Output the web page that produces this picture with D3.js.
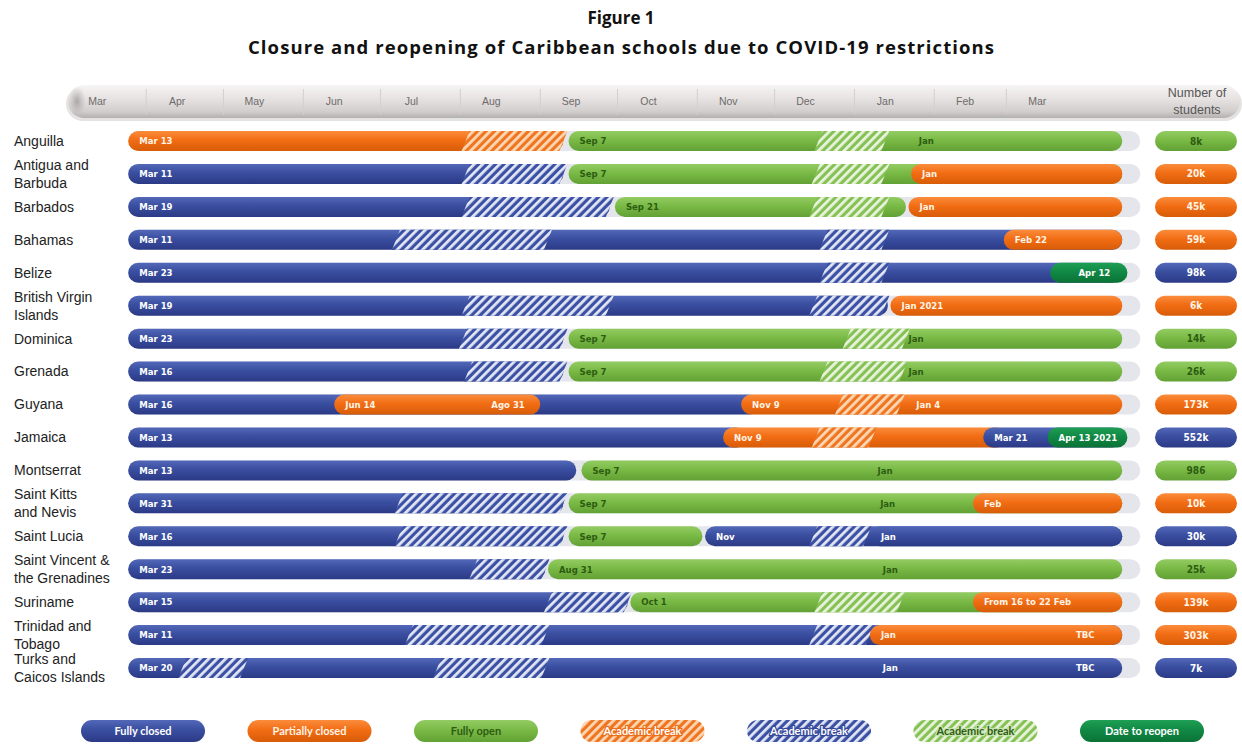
<!DOCTYPE html>
<html><head><meta charset="utf-8">
<script src="https://cdn.jsdelivr.net/npm/d3@7"></script>
<style>body{margin:0;background:#fff}</style>
</head><body>
<svg id="chart" width="1242" height="744"></svg>
<script>
// ---------------- DATA ----------------
const titleLines = ["Figure 1", "Closure and reopening of Caribbean schools due to COVID-19 restrictions"];
const monthStarts = ["2020-03-01","2020-04-01","2020-05-01","2020-06-01","2020-07-01","2020-08-01","2020-09-01",
  "2020-10-01","2020-11-01","2020-12-01","2021-01-01","2021-02-01","2021-03-01"];
const studentsHeader = ["Number of", "students"];
const countries = ["Anguilla","Antigua and\nBarbuda","Barbados","Bahamas","Belize","British Virgin\nIslands",
  "Dominica","Grenada","Guyana","Jamaica","Montserrat","Saint Kitts\nand Nevis","Saint Lucia",
  "Saint Vincent &\nthe Grenadines","Suriname","Trinidad and\nTobago","Turks and\nCaicos Islands"];
const studentLabels = ["8k","20k","45k","59k","98k","6k","14k","26k","173k","552k","986","10k","30k","25k","139k","303k","7k"];
const studentStatus = ["open","partial","partial","partial","closed","partial","open","open","partial","closed",
  "open","partial","closed","open","partial","partial","closed"];
const START = "2020-03-25", END = "2021-04-15", TRACK_END = "2021-04-22";
// [status, from, to, label] drawn in order; "brk-*" = academic break
const rowSegments = [
  [["partial",START,"2020-09-10","Mar 13"],["brk-partial","2020-08-03","2020-09-10"],["open","2020-09-12",END,"Sep 7"],["brk-open","2020-12-18","2021-01-13"]],
  [["closed",START,"2020-09-10","Mar 11"],["brk-closed","2020-08-03","2020-09-10"],["open","2020-09-12",END,"Sep 7"],["brk-open","2020-12-17","2021-01-13"],["partial","2021-01-23",END,"Jan"]],
  [["closed",START,"2020-09-28","Mar 19"],["brk-closed","2020-08-03","2020-09-28"],["open","2020-09-30","2021-01-21","Sep 21"],["brk-open","2020-12-16","2021-01-13"],["partial","2021-01-22",END,"Jan"]],
  [["closed",START,END,"Mar 11"],["brk-closed","2020-07-07","2020-09-04"],["brk-closed","2020-12-20","2021-01-13"],["partial","2021-02-28",END,"Feb 22"]],
  [["closed",START,END,"Mar 23"],["brk-closed","2020-12-20","2021-01-13"],["reopen","2021-03-18","2021-04-17",""]],
  [["closed",START,"2021-01-14","Mar 19"],["brk-closed","2020-08-03","2020-09-28"],["brk-closed","2020-12-16","2021-01-13"],["partial","2021-01-15",END,"Jan 2021"]],
  [["closed",START,"2020-09-10","Mar 23"],["brk-closed","2020-08-02","2020-09-10"],["open","2020-09-12",END,"Sep 7"],["brk-open","2020-12-29","2021-01-21"]],
  [["closed",START,"2020-09-10","Mar 16"],["brk-closed","2020-08-04","2020-09-10"],["open","2020-09-12",END,"Sep 7"],["brk-open","2020-12-20","2021-01-20"]],
  [["closed",START,"2020-11-25","Mar 16"],["partial","2020-06-13","2020-09-01","Jun 14"],["partial","2020-11-18",END,"Nov 9"],["brk-partial","2020-12-26","2021-01-19"]],
  [["closed",START,"2020-11-20","Mar 13"],["partial","2020-11-11","2021-03-01","Nov 9"],["brk-partial","2020-12-17","2021-01-08"],["closed","2021-02-20",END,"Mar 21"],["reopen","2021-03-17","2021-04-17","Apr 13 2021"]],
  [["closed",START,"2020-09-15","Mar 13"],["open","2020-09-17",END,"Sep 7"]],
  [["closed",START,"2020-09-10","Mar 31"],["brk-closed","2020-07-08","2020-09-10"],["open","2020-09-12",END,"Sep 7"],["partial","2021-02-16",END,"Feb"]],
  [["closed",START,"2020-09-10","Mar 16"],["brk-closed","2020-07-08","2020-09-10"],["open","2020-09-12","2020-11-03","Sep 7"],["closed","2020-11-04",END,"Nov"],["brk-closed","2020-12-16","2021-01-06"],["closed","2021-01-07",END,"Jan"]],
  [["closed",START,"2020-09-03","Mar 23"],["brk-closed","2020-08-06","2020-09-03"],["open","2020-09-04",END,"Aug 31"]],
  [["closed",START,"2020-10-05","Mar 15"],["brk-closed","2020-09-04","2020-10-05"],["open","2020-10-06",END,"Oct 1"],["brk-open","2020-12-18","2021-01-19"],["partial","2021-02-16",END,"From 16 to 22 Feb"]],
  [["closed",START,END,"Mar 11"],["brk-closed","2020-07-12","2020-09-03"],["brk-closed","2020-12-16","2021-01-07"],["partial","2021-01-07",END,"Jan"]],
  [["closed",START,END,"Mar 20"],["brk-closed","2020-04-15","2020-05-09"],["brk-closed","2020-07-23","2020-09-03"]]
];
// free text inside bars: [text, position date, background status]
const rowNotes = [
  [["Jan","2021-01-26","open"]],
  [], [], [],
  [["Apr 12","2021-03-29","reopen"]],
  [],
  [["Jan","2021-01-22","open"]],
  [["Jan","2021-01-22","open"]],
  [["Ago 31","2020-08-13","partial"],["Jan 4","2021-01-25","partial"]],
  [],
  [["Jan","2021-01-10","open"]],
  [["Jan","2021-01-11","open"]],
  [],
  [["Jan","2021-01-12","open"]],
  [],
  [["TBC","2021-03-28","partial"]],
  [["Jan","2021-01-12","closed"],["TBC","2021-03-28","closed"]]
];
const legendKinds = ["closed","partial","open","brk-partial","brk-closed","brk-open","reopen"];
const legendLabels = ["Fully closed","Partially closed","Fully open","Academic break","Academic break","Academic break","Date to reopen"];

// ---------------- DRAWING ----------------
const parse = d3.timeParse("%Y-%m-%d");
const svg = d3.select("#chart");
const defs = svg.append("defs");

const palette = {
  closed:  ["#5368b8","#3a4ea0","#2b3a86"],
  partial: ["#fb8c3c","#f26d14","#d85c08"],
  open:    ["#93cc63","#7aba46","#62a134"],
  reopen:  ["#1f9f55","#118945","#0a7236"]
};
Object.entries(palette).forEach(([k,c]) => {
  const g = defs.append("linearGradient").attr("id","g-"+k).attr("x1",0).attr("y1",0).attr("x2",0).attr("y2",1);
  g.append("stop").attr("offset","0%").attr("stop-color",c[0]);
  g.append("stop").attr("offset","45%").attr("stop-color",c[1]);
  g.append("stop").attr("offset","100%").attr("stop-color",c[2]);
});
const hatchCols = {
  "brk-closed":  ["#3c51a3","#e2e7f6"],
  "brk-partial": ["#f07522","#fcd9b4"],
  "brk-open":    ["#86c155","#e9f4de"]
};
Object.entries(hatchCols).forEach(([k,c]) => {
  const p = defs.append("pattern").attr("id","p-"+k).attr("patternUnits","userSpaceOnUse")
    .attr("width",6).attr("height",6).attr("patternTransform","rotate(45)");
  p.append("rect").attr("width",6).attr("height",6).attr("fill",c[0]);
  p.append("rect").attr("width",2.8).attr("height",6).attr("fill",c[1]);
});
const textCol = {closed:"#ffffff", partial:"#fff4e6", open:"#2d5c12", reopen:"#ffffff",
  "brk-closed":"#ffffff","brk-partial":"#ffffff","brk-open":"#2d5c12"};
const haloCol = {"brk-closed":"#34489a","brk-partial":"#ec6d18","brk-open":"#c9e5b0"};
const fillOf = k => k.startsWith("brk-") ? "url(#p-"+k+")" : "url(#g-"+k+")";

// Title
svg.selectAll("text.title").data(titleLines).join("text")
  .attr("x",621).attr("y",(d,i)=>24+i*30).attr("text-anchor","middle")
  .style("font-family","'Open Sans',sans-serif").style("font-weight","bold")
  .style("font-size",(d,i)=> i===0 ? "17px" : "18.5px")
  .attr("fill","#111")
  .each(function(d,i){ if(i===1) d3.select(this).attr("textLength",746).attr("lengthAdjust","spacing"); })
  .text(d=>d);

// Time scale (fitted to the header month labels)
const x = d3.scaleTime().domain([parse("2020-03-16"), parse("2021-03-16")]).range([105,1045]);

// Header bar
const hg = defs.append("linearGradient").attr("id","hdr").attr("x1",0).attr("y1",0).attr("x2",0).attr("y2",1);
[["0%","#f6f4f4"],["40%","#e7e3e2"],["80%","#d2cecd"],["100%","#b3b0b0"]].forEach(s=>hg.append("stop").attr("offset",s[0]).attr("stop-color",s[1]));
const capg = defs.append("radialGradient").attr("id","cap").attr("cx","50%").attr("cy","50%").attr("r","50%");
capg.append("stop").attr("offset","0%").attr("stop-color","#aaa7a7");
capg.append("stop").attr("offset","100%").attr("stop-color","#b8b5b5").attr("stop-opacity",0);
svg.append("rect").attr("x",66).attr("y",87).attr("width",1176).attr("height",34).attr("rx",17).attr("fill","#e4e2e2");
svg.append("rect").attr("x",68).attr("y",85).attr("width",1172).attr("height",33).attr("rx",16.5).attr("fill","url(#hdr)");
svg.append("ellipse").attr("cx",77).attr("cy",101.5).attr("rx",9).attr("ry",15).attr("fill","url(#cap)");

const months = monthStarts.map(parse);
svg.selectAll("line.sep").data(months.slice(1)).join("line")
  .attr("x1",d=>x(d)).attr("x2",d=>x(d)).attr("y1",89).attr("y2",115)
  .attr("stroke","#d3cfce").attr("stroke-width",1);
svg.selectAll("text.month").data(months).join("text")
  .attr("x",d=>x(d3.timeDay.offset(d,12))).attr("y",105).attr("text-anchor","middle")
  .style("font-family","'Liberation Sans',Arial,sans-serif").style("font-size","10.5px").attr("fill","#6e6a6a")
  .text(d3.timeFormat("%b"));
svg.selectAll("text.shdr").data(studentsHeader).join("text")
  .attr("x",1197).attr("y",(d,i)=>97+i*17).attr("text-anchor","middle")
  .style("font-family","'Liberation Sans',Arial,sans-serif").style("font-size","12.5px").attr("fill","#555")
  .text(d=>d);

// Rows
const y = d3.scalePoint().domain(countries).range([141,668]);
const H = 20, K = 8;
const labFont = "'Liberation Sans Narrow','DejaVu Sans Condensed',Arial,sans-serif";

countries.forEach((c,i) => {
  const cy = y(c);
  const g = svg.append("g");
  const lines = c.split("\n");
  g.selectAll("text.cn").data(lines).join("text")
    .attr("x",14).attr("y",(d,j)=>cy + (lines.length===1?0:(j===0?-9:9))).attr("dy","0.35em")
    .style("font-family","'Liberation Sans',Arial,sans-serif").style("font-size","14px").attr("fill","#222")
    .text(d=>d);
  g.append("rect").attr("x",x(parse(START))).attr("y",cy-H/2)
    .attr("width",x(parse(TRACK_END))-x(parse(START))).attr("height",H).attr("rx",H/2).attr("fill","#e4e6eb");
  rowSegments[i].forEach(s => {
    const [k,a,b,lab] = s;
    const x0 = x(parse(a)), x1 = x(parse(b));
    if (k.startsWith("brk-")) {
      g.append("path")
        .attr("d",`M${x0-K/2},${cy+H/2}L${x0+K/2},${cy-H/2}L${x1+K/2},${cy-H/2}L${x1-K/2},${cy+H/2}Z`)
        .attr("fill",fillOf(k));
    } else {
      g.append("rect").attr("x",x0).attr("y",cy-H/2).attr("width",x1-x0).attr("height",H)
        .attr("rx",H/2).attr("fill",fillOf(k));
      if (lab) g.append("text").attr("x",x0+11).attr("y",cy).attr("dy","0.35em")
        .style("font-family",labFont).style("font-size","9.5px").style("font-weight","bold")
        .attr("fill",textCol[k]).text(lab);
    }
  });
  rowNotes[i].forEach(n => {
    g.append("text").attr("x",x(parse(n[1]))).attr("y",cy).attr("dy","0.35em")
      .style("font-family",labFont).style("font-size","9.5px").style("font-weight","bold")
      .attr("fill",textCol[n[2]]).text(n[0]);
  });
  g.append("rect").attr("x",1155).attr("y",cy-H/2).attr("width",82).attr("height",H).attr("rx",H/2)
    .attr("fill",fillOf(studentStatus[i]));
  g.append("text").attr("x",1196).attr("y",cy).attr("dy","0.35em").attr("text-anchor","middle")
    .style("font-family",labFont).style("font-size","10px").style("font-weight","bold")
    .attr("fill",textCol[studentStatus[i]]).text(studentLabels[i]);
});

// Legend
const lx = d3.scalePoint().domain(d3.range(legendKinds.length)).range([143,1142]);
const LW = 124, LH = 22, LY = 731;
legendKinds.forEach((k,i) => {
  const cx = lx(i);
  svg.append("rect").attr("x",cx-LW/2).attr("y",LY-LH/2).attr("width",LW).attr("height",LH).attr("rx",LH/2)
    .attr("fill",fillOf(k));
  const t = svg.append("text").attr("x",cx).attr("y",LY).attr("dy","0.35em").attr("text-anchor","middle")
    .style("font-family","Lato,'Open Sans',sans-serif").style("font-size","11px").style("font-weight","bold")
    .attr("fill",textCol[k]).text(legendLabels[i]);
  if (haloCol[k]) t.attr("stroke",haloCol[k]).attr("stroke-width",2.5).attr("paint-order","stroke")
    .attr("stroke-linejoin","round");
});
</script>
</body></html>
